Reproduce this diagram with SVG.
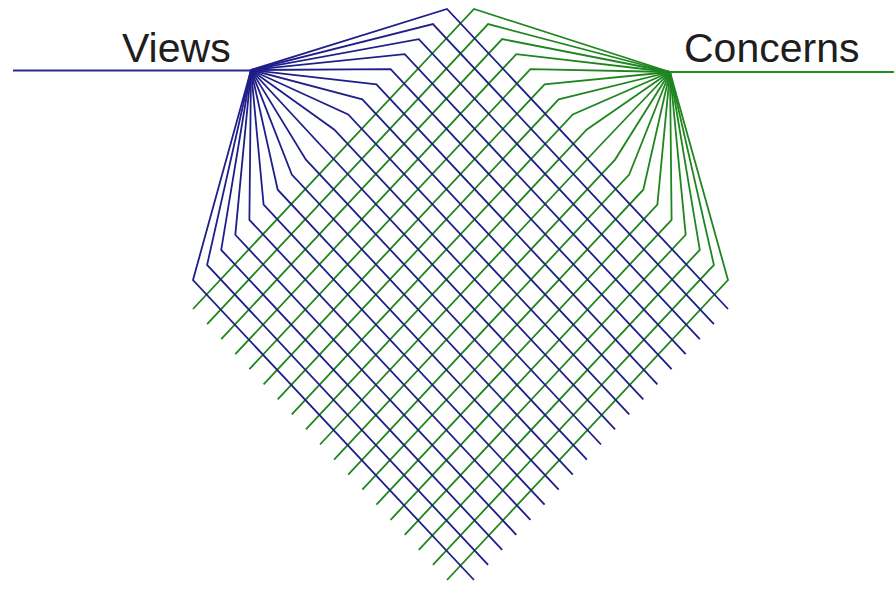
<svg xmlns="http://www.w3.org/2000/svg" width="894" height="590" viewBox="0 0 894 590">
<style>
.bg{fill:#ffffff}
.lbl{font-family:"Liberation Sans",Arial,sans-serif;font-size:41px;fill:#1e1e1e}
.b{fill:none;stroke:#1f1f8a;stroke-width:1.8;stroke-linejoin:miter}
.g{fill:none;stroke:#1f861f;stroke-width:1.8;stroke-linejoin:miter}
.bh{fill:none;stroke:#2a2a90;stroke-width:2}
.gh{fill:none;stroke:#1f8f1f;stroke-width:2}
</style>
<rect class="bg" x="0" y="0" width="894" height="590"/>
<g id="views">
<text class="lbl" x="122" y="62">Views</text>
<line class="bh" x1="13" y1="70.5" x2="251" y2="70.5"/>
</g>
<g id="concerns">
<text class="lbl" x="684" y="62">Concerns</text>
<line class="gh" x1="670" y1="72" x2="894" y2="72"/>
</g>
<g id="connectors">
<g id="concern-lines">
<polyline class="g" points="670,72 474.0,9.0 193.0,309.0"/>
<polyline class="g" points="670,72 488.1,24.1 207.1,324.1"/>
<polyline class="g" points="670,72 502.2,39.1 221.2,339.1"/>
<polyline class="g" points="670,72 516.3,54.2 235.3,354.2"/>
<polyline class="g" points="670,72 530.4,69.2 249.4,369.2"/>
<polyline class="g" points="670,72 544.6,84.3 263.6,384.3"/>
<polyline class="g" points="670,72 558.7,99.3 277.7,399.3"/>
<polyline class="g" points="670,72 572.8,114.4 291.8,414.4"/>
<polyline class="g" points="670,72 586.9,129.4 305.9,429.4"/>
<polyline class="g" points="670,72 601.0,144.5 320.0,444.5"/>
<polyline class="g" points="670,72 615.1,159.6 334.1,459.6"/>
<polyline class="g" points="670,72 629.2,174.6 348.2,474.6"/>
<polyline class="g" points="670,72 643.3,189.7 362.3,489.7"/>
<polyline class="g" points="670,72 657.4,204.7 376.4,504.7"/>
<polyline class="g" points="670,72 671.6,219.8 390.6,519.8"/>
<polyline class="g" points="670,72 685.7,234.8 404.7,534.8"/>
<polyline class="g" points="670,72 699.8,249.9 418.8,549.9"/>
<polyline class="g" points="670,72 713.9,264.9 432.9,564.9"/>
<polyline class="g" points="670,72 728.0,280.0 447.0,580.0"/>
</g>
<g id="view-lines">
<polyline class="b" points="251,70 447.0,9.0 728.0,309.0"/>
<polyline class="b" points="251,70 432.9,24.1 713.9,324.1"/>
<polyline class="b" points="251,70 418.8,39.1 699.8,339.1"/>
<polyline class="b" points="251,70 404.7,54.2 685.7,354.2"/>
<polyline class="b" points="251,70 390.6,69.2 671.6,369.2"/>
<polyline class="b" points="251,70 376.4,84.3 657.4,384.3"/>
<polyline class="b" points="251,70 362.3,99.3 643.3,399.3"/>
<polyline class="b" points="251,70 348.2,114.4 629.2,414.4"/>
<polyline class="b" points="251,70 334.1,129.4 615.1,429.4"/>
<polyline class="b" points="251,70 320.0,144.5 601.0,444.5"/>
<polyline class="b" points="251,70 305.9,159.6 586.9,459.6"/>
<polyline class="b" points="251,70 291.8,174.6 572.8,474.6"/>
<polyline class="b" points="251,70 277.7,189.7 558.7,489.7"/>
<polyline class="b" points="251,70 263.6,204.7 544.6,504.7"/>
<polyline class="b" points="251,70 249.4,219.8 530.4,519.8"/>
<polyline class="b" points="251,70 235.3,234.8 516.3,534.8"/>
<polyline class="b" points="251,70 221.2,249.9 502.2,549.9"/>
<polyline class="b" points="251,70 207.1,264.9 488.1,564.9"/>
<polyline class="b" points="251,70 193.0,280.0 474.0,580.0"/>
</g>
</g>
</svg>
